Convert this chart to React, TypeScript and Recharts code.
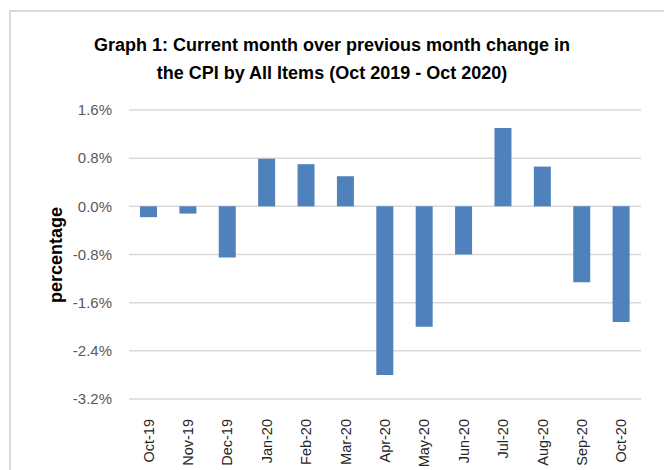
import { BarChart, Bar, XAxis, YAxis, CartesianGrid, Label } from 'recharts';

const months = ['Oct-19', 'Nov-19', 'Dec-19', 'Jan-20', 'Feb-20', 'Mar-20', 'Apr-20', 'May-20', 'Jun-20', 'Jul-20', 'Aug-20', 'Sep-20', 'Oct-20'];
const changes = [-0.18, -0.12, -0.85, 0.79, 0.7, 0.5, -2.8, -2.0, -0.8, 1.3, 0.66, -1.26, -1.92];
const yTicks = [-3.2, -2.4, -1.6, -0.8, 0, 0.8, 1.6];

const FONT = '"Liberation Sans", Arial, sans-serif';

const data = months.map((m, i) => ({ month: m, change: changes[i] }));

function MonthTick(props: any) {
  const { x, y, payload } = props;
  return (
    <text
      x={0}
      y={0}
      transform={`translate(${x},${y + 12}) rotate(-90)`}
      textAnchor="end"
      dominantBaseline="central"
      fontSize={14.5}
      fill="#262626"
      fontFamily={FONT}
    >
      {payload.value}
    </text>
  );
}

function YTitle() {
  return (
    <text
      x={0}
      y={0}
      transform="translate(56,255) rotate(-90)"
      textAnchor="middle"
      dominantBaseline="central"
      fontSize={18}
      fontWeight="bold"
      fill="#000"
      fontFamily={FONT}
    >
      percentage
    </text>
  );
}

export default function App() {
  return (
    <div style={{ position: 'absolute', left: 0, top: 0, width: 664, height: 470, background: '#fff', overflow: 'hidden' }}>
      <div
        style={{
          position: 'absolute', left: 9, top: 10, width: 700, height: 500,
          border: '2px solid #D9D9D9', boxSizing: 'border-box',
        }}
      />
      <div
        style={{
          position: 'absolute', left: 0, top: 31, width: 664, textAlign: 'center',
          fontFamily: FONT, fontWeight: 'bold', fontSize: 18, lineHeight: '28px', color: '#000',
        }}
      >
        Graph 1: Current month over previous month change in
        <br />
        the CPI by All Items (Oct 2019 - Oct 2020)
      </div>
      <BarChart
        width={664}
        height={470}
        data={data}
        margin={{ top: 110, right: 23, bottom: 0, left: 69 }}
        style={{ position: 'absolute', left: 0, top: 0 }}
      >
        <CartesianGrid vertical={false} stroke="#D9D9D9" strokeWidth={1.5} />
        <XAxis
          dataKey="month"
          axisLine={false}
          tickLine={false}
          interval={0}
          tick={<MonthTick />}
          height={71}
        />
        <YAxis
          width={60}
          domain={[-3.2, 1.6]}
          ticks={yTicks}
          axisLine={false}
          tickLine={false}
          tickSize={0}
          tickMargin={17}
          tickFormatter={(v: number) => `${v.toFixed(1)}%`}
          tick={{ fontSize: 15, fill: '#595959', fontFamily: FONT }}
        >
          <Label content={<YTitle />} />
        </YAxis>
        <Bar dataKey="change" fill="#4F81BD" barSize={17} isAnimationActive={false} />
      </BarChart>
    </div>
  );
}
